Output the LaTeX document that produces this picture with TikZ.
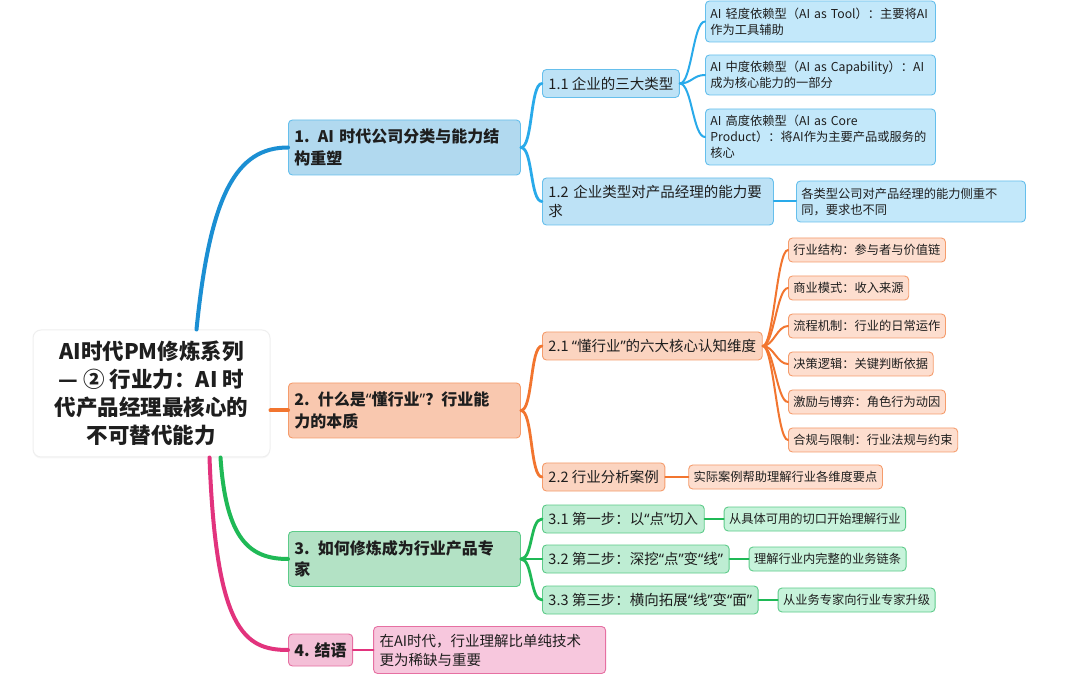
\documentclass[tikz,border=0pt]{standalone}
\usepackage{fontspec}
\setmainfont{Noto Sans CJK SC}
\newfontfamily\quotefont{Noto Sans}
\usetikzlibrary{positioning,shadows}

\definecolor{inktext}{HTML}{1E1E1E}
\definecolor{bluetrunk}{HTML}{1B8FD3}
\definecolor{blueline}{HTML}{29AAEA}
\definecolor{blueedge}{HTML}{66BFEC}
\definecolor{bluefillA}{HTML}{B1D9EF}
\definecolor{bluefillB}{HTML}{BDE2F6}
\definecolor{bluefillC}{HTML}{C3E8FA}
\definecolor{orangeline}{HTML}{F2752F}
\definecolor{orangeedge}{HTML}{F59C6C}
\definecolor{orangefillA}{HTML}{F9C8AF}
\definecolor{orangefillB}{HTML}{FBD4C0}
\definecolor{orangefillC}{HTML}{FDDECF}
\definecolor{greenline}{HTML}{1FB956}
\definecolor{greenedge}{HTML}{5DCB89}
\definecolor{greenfillA}{HTML}{B3E2C5}
\definecolor{greenfillB}{HTML}{BEEDD3}
\definecolor{greenfillC}{HTML}{C7F3DB}
\definecolor{pinkline}{HTML}{E2337D}
\definecolor{pinkedge}{HTML}{E670A2}
\definecolor{pinkfillA}{HTML}{F4BFD7}
\definecolor{pinkfillB}{HTML}{F7C7DD}
\definecolor{rootedge}{HTML}{EFEFEF}

\newcommand{\rootfont}{\fontsize{21.5}{28}\selectfont\bfseries}
\newcommand{\topicfont}{\fontsize{16}{21.5}\selectfont\bfseries}
\newcommand{\subfont}{\fontsize{14.5}{19}\selectfont}
\newcommand{\leaffont}{\fontsize{12.25}{16}\selectfont}
% narrow quotation marks
\newcommand{\cq}[1]{{\quotefont “}#1{\quotefont ”}}

\tikzset{
  box/.style={draw, rounded corners=4pt, line width=0.9pt, anchor=west,
    align=left, inner xsep=6pt, inner ysep=3pt, text=inktext},
  rootbox/.style={fill=white, draw=rootedge, line width=1pt, rounded corners=8pt,
    align=center, minimum width=237pt, minimum height=127pt, font=\rootfont,
    text=inktext, drop shadow={opacity=0.06, shadow xshift=0pt, shadow yshift=-1.5pt}},
  topic/.style={box, font=\topicfont, minimum height=55pt},
  sub/.style={box, font=\subfont, minimum height=28pt},
  leaf/.style={box, font=\leaffont, inner xsep=5pt, minimum height=24pt},
  % colour sets
  btopic/.style={topic, fill=bluefillA, draw=blueedge},
  bsub/.style={sub, fill=bluefillB, draw=blueedge},
  bleaf/.style={leaf, fill=bluefillC, draw=blueedge},
  otopic/.style={topic, fill=orangefillA, draw=orangeedge},
  osub/.style={sub, fill=orangefillB, draw=orangeedge},
  oleaf/.style={leaf, fill=orangefillC, draw=orangeedge},
  gtopic/.style={topic, fill=greenfillA, draw=greenedge},
  gsub/.style={sub, fill=greenfillB, draw=greenedge},
  gleaf/.style={leaf, fill=greenfillC, draw=greenedge},
  ptopic/.style={topic, fill=pinkfillA, draw=pinkedge},
  psub/.style={sub, fill=pinkfillB, draw=pinkedge},
  % connectors
  trunk/.style={line width=4pt, line cap=round},
  branch/.style={line width=2.8pt, line cap=round},
  twig/.style={line width=2pt, line cap=round}
}

\begin{document}
\begin{tikzpicture}[x=1pt,y=-1pt]
    \useasboundingbox[fill=white] (0,0) rectangle (1080,676);

    % Root
    \node[rootbox] (root) at (151.5,393.5)
        {AI时代PM修炼系列\\— ② 行业力：AI 时\\代产品经理最核心的\\不可替代能力};

    % Main topics
    \node[btopic, text width=220pt] (t1) at (288,147.5) {1. AI 时代公司分类与能力结\\构重塑};
    \node[otopic, text width=220pt] (t2) at (288,410.5) {2. 什么是\cq{懂行业}？行业能\\力的本质};
    \node[gtopic, text width=220pt] (t3) at (288,559) {3. 如何修炼成为行业产品专\\家};
    \node[ptopic, minimum height=32pt] (t4) at (288,650) {4. 结语};

    \draw[trunk, bluetrunk] ([xshift=45pt]root.north) .. controls (210,195) and (236,147.5) .. (t1.west);
    \draw[trunk, orangeline] (root.east |- t2.west) -- (t2.west);
    \draw[trunk, greenline] ([xshift=69pt]root.south) .. controls (226,540) and (250,559) .. (t3.west);
    \draw[trunk, pinkline] ([xshift=58pt]root.south) .. controls (216,630) and (244,650) .. (t4.west);

    % 1. AI era company types
    \node[bsub] (s11) at (542,83.5) {1.1 企业的三大类型};
    \node[bsub, text width=219pt, minimum height=47pt] (s12) at (542,201.5) {1.2 企业类型对产品经理的能力要\\求};
    \node[bleaf, text width=220pt, minimum height=41pt] (s11a) at (705,21.5) {AI 轻度依赖型（AI as Tool）：主要将AI\\作为工具辅助};
    \node[bleaf, text width=220pt, minimum height=40pt] (s11b) at (705,75) {AI 中度依赖型（AI as Capability）：AI\\成为核心能力的一部分};
    \node[bleaf, text width=220pt, minimum height=56pt] (s11c) at (705,137) {AI 高度依赖型（AI as Core\\Product）：将AI作为主要产品或服务的\\核心};
    \node[bleaf, text width=219pt, minimum height=41pt] (s12a) at (796,201.5) {各类型公司对产品经理的能力侧重不\\同，要求也不同};

    \foreach \s in {s11,s12}
        \draw[branch, blueline] (t1.east) .. controls +(12,0) and +(-12,0) .. (\s.west);
    \foreach \l in {s11a,s11b,s11c}
        \draw[twig, blueline] (s11.east) .. controls +(12,0) and +(-12,0) .. (\l.west);
    \draw[twig, blueline] (s12.east) -- (s12a.west);

    % 2. What is understanding an industry
    \node[osub] (s21) at (542,346) {2.1 \cq{懂行业}的六大核心认知维度};
    \node[osub] (s22) at (542,477) {2.2 行业分析案例};
    \foreach \n/\y/\txt in {a/250/{行业结构：参与者与价值链}, b/288/{商业模式：收入来源},
        c/326/{流程机制：行业的日常运作}, d/364/{决策逻辑：关键判断依据},
        e/402/{激励与博弈：角色行为动因}, f/440/{合规与限制：行业法规与约束}} {
        \node[oleaf] (s21\n) at (788,\y) {\txt};
        \draw[twig, orangeline] (s21.east) .. controls +(11,0) and +(-11,0) .. (s21\n.west);
    }
    \node[oleaf, right=23pt of s22] (s22a) {实际案例帮助理解行业各维度要点};

    \foreach \s in {s21,s22}
        \draw[branch, orangeline] (t2.east) .. controls +(12,0) and +(-12,0) .. (\s.west);
    \draw[twig, orangeline] (s22.east) -- (s22a.west);

    % 3. How to become an industry product expert
    \node[gsub] (s31) at (542,519) {3.1 第一步：以\cq{点}切入};
    \node[gsub] (s32) at (542,559) {3.2 第二步：深挖\cq{点}变\cq{线}};
    \node[gsub] (s33) at (542,600) {3.3 第三步：横向拓展\cq{线}变\cq{面}};
    \node[gleaf, right=19pt of s31] (s31a) {从具体可用的切口开始理解行业};
    \node[gleaf, right=19pt of s32] (s32a) {理解行业内完整的业务链条};
    \node[gleaf, right=19pt of s33] (s33a) {从业务专家向行业专家升级};

    \foreach \s in {s31,s32,s33} {
        \draw[branch, greenline] (t3.east) .. controls +(12,0) and +(-12,0) .. (\s.west);
        \draw[twig, greenline] (\s.east) -- (\s a.west);
    }

    % 4. Conclusion
    \node[psub, text width=220pt, minimum height=47pt, right=20pt of t4] (s41) {在AI时代，行业理解比单纯技术\\更为稀缺与重要};
    \draw[branch, pinkline] (t4.east) -- (s41.west);
\end{tikzpicture}
\end{document}
